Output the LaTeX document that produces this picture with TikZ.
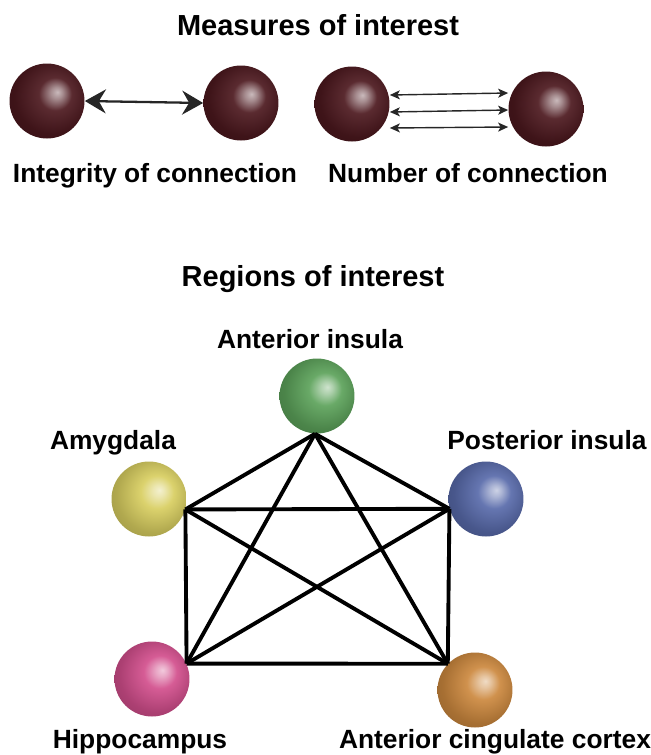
\documentclass[tikz,border=0pt]{standalone}
\usepackage{fontspec}
\setmainfont{Liberation Sans}
\usetikzlibrary{arrows.meta}

% colours of the spheres
\definecolor{maroon}{RGB}{76,24,30}
\definecolor{ballgreen}{RGB}{92,162,90}
\definecolor{ballyellow}{RGB}{216,206,96}
\definecolor{ballblue}{RGB}{88,106,170}
\definecolor{ballpink}{RGB}{210,78,140}
\definecolor{ballorange}{RGB}{204,136,62}

% sphere shading, light spot up and to the right
\colorlet{orbcol}{black}
\pgfdeclareradialshading[orbcol]{orb}{\pgfpoint{7bp}{6bp}}{%
  color(0bp)=(orbcol!30!white); color(4bp)=(orbcol!50!white);
  color(11bp)=(orbcol!92!white); color(25bp)=(orbcol!82!black);
  color(50bp)=(orbcol!60!black)}

\tikzset{
  sphere/.style={circle, minimum size=1.5cm, inner sep=0pt, shade, shading=orb,
    /utils/exec={\colorlet{orbcol}{#1}}},
  ttl/.style={anchor=base, font=\fontsize{16.5}{19}\selectfont\bfseries},
  lbl/.style={anchor=base, font=\fontsize{15}{18}\selectfont\bfseries},
  edge/.style={line width=2.2pt},
  bigarrow/.style={{Stealth[length=0.42cm,width=0.48cm,inset=0.14cm]}-{Stealth[length=0.42cm,width=0.48cm,inset=0.14cm]},
    line width=1.3pt, black!85},
  thinarrow/.style={{Stealth[length=0.2cm,width=0.18cm,inset=0.05cm]}-{Stealth[length=0.2cm,width=0.18cm,inset=0.05cm]},
    line width=0.8pt, black!85},
}

\begin{document}
\begin{tikzpicture}[x=0.02cm, y=-0.02cm]
    \useasboundingbox (0,0) rectangle (651,755);

    % Measures of interest
    \node[ttl] (mtitle) at (318,35) {Measures of interest};
    \node[sphere=maroon] (m1) at (47,101) {};
    \node[sphere=maroon] (m2) at (241,103) {};
    \node[sphere=maroon] (m3) at (352,104) {};
    \node[sphere=maroon] (m4) at (546,109) {};

    \draw[bigarrow] (m1.east) -- (m2.west);
    \draw[thinarrow] ([yshift=0.18cm]m3.east) -- ([yshift=0.32cm]m4.west);
    \draw[thinarrow] ([yshift=-0.16cm]m3.east) -- ([yshift=-0.02cm]m4.west);
    \draw[thinarrow] ([yshift=-0.48cm]m3.east) -- ([yshift=-0.36cm]m4.west);

    \node[lbl] (lint) at (155,182) {Integrity of connection};
    \node[lbl] (lnum) at (468,182) {Number of connection};

    % Regions of interest
    \node[ttl] (rtitle) at (313,286) {Regions of interest};
    \node[sphere=ballgreen] (ains) at (317,396) {};
    \node[sphere=ballyellow] (amyg) at (149,499) {};
    \node[sphere=ballblue] (pins) at (486,499) {};
    \node[sphere=ballpink] (hipp) at (152,679) {};
    \node[sphere=ballorange] (acc) at (475,690) {};

    \node[lbl] (lains) at (310,348) {Anterior insula};
    \node[lbl] (lamyg) at (113,449) {Amygdala};
    \node[lbl] (lpins) at (547,449) {Posterior insula};
    \node[lbl] (lhipp) at (140,748) {Hippocampus};
    \node[lbl] (lacc) at (495,748) {Anterior cingulate cortex};

    % every region linked to every other one
    \foreach \a/\b in {ains.-93/amyg.-16, ains.-93/pins.195, ains.-93/hipp.24, ains.-93/acc.136,
                       amyg.-16/pins.195, amyg.-16/hipp.24, amyg.-16/acc.136,
                       pins.195/hipp.24, pins.195/acc.136, hipp.24/acc.136}
        \draw[edge] (\a) -- (\b);
\end{tikzpicture}
\end{document}
